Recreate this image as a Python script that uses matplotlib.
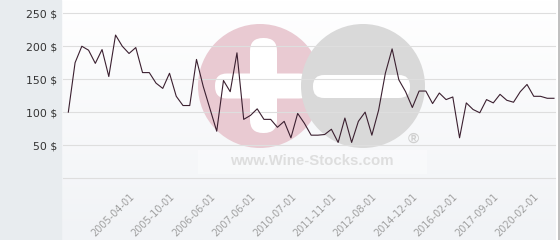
import numpy as np
import matplotlib.pyplot as plt
from matplotlib.patches import Circle, FancyBboxPatch, Rectangle
from matplotlib.lines import Line2D

# prix (un point par cotation)
prices = [100, 175, 200, 194, 174, 195, 154, 217, 200, 189,
          198, 160, 160, 144, 136, 159, 124, 110, 110, 180,
          139, 105, 71, 148, 131, 190, 89, 95, 105, 89,
          89, 77, 86, 61, 98, 83, 65, 65, 66, 74,
          54, 91, 54, 86, 100, 65, 103, 159, 196, 149,
          131, 107, 132, 132, 113, 129, 119, 123, 61, 114,
          104, 99, 119, 114, 127, 118, 115, 131, 142, 124,
          124, 121, 121]
date_labels = ['2005-04-01', '2005-10-01', '2006-06-01', '2007-06-01',
               '2010-07-01', '2011-11-01', '2012-08-01', '2014-12-01',
               '2016-02-01', '2017-09-01', '2020-02-01']
y_ticks = [0, 50, 100, 150, 200, 250]

W, H = 560, 240
fig = plt.figure(figsize=(W / 100, H / 100), dpi=100)
fig.patch.set_facecolor('white')

# panneau gris à gauche
fig.patches.append(Rectangle((0, 0), 61 / W, 1, transform=fig.transFigure,
                             color='#e8ecef', zorder=0))

# fond légèrement dégradé de la zone du graphique
ax_bg = fig.add_axes([61 / W, 0, (556 - 61) / W, 1], zorder=0)
grad = np.linspace(0, 1, 100).reshape(-1, 1) * np.ones((1, 10))
ax_bg.imshow(grad, aspect='auto', cmap=plt.matplotlib.colors.LinearSegmentedColormap.from_list(
    'bg', ['#ffffff', '#f1f3f6']), extent=(0, 1, 0, 1), origin='upper')
ax_bg.axis('off')

# filigrane (coordonnées en pixels)
ax_wm = fig.add_axes([0, 0, 1, 1], zorder=1)
ax_wm.set_xlim(0, W)
ax_wm.set_ylim(H, 0)
ax_wm.axis('off')
ax_wm.patch.set_alpha(0)
ax_wm.add_patch(Circle((260, 86), 62, color='#e9cad2', lw=0))
ax_wm.add_patch(FancyBboxPatch((250, 38), 27, 95, boxstyle='round,pad=0,rounding_size=13',
                               color='white', lw=0))
ax_wm.add_patch(FancyBboxPatch((215, 73.5), 96, 25, boxstyle='round,pad=0,rounding_size=12',
                               color='white', lw=0))
ax_wm.add_patch(Circle((363, 86), 62, color='#d9d9d9', lw=0))
ax_wm.add_patch(FancyBboxPatch((313, 75), 97, 23, boxstyle='round,pad=0,rounding_size=11',
                               color='white', lw=0))
ax_wm.add_patch(Rectangle((198, 150), 229, 24, color='white', alpha=0.35, lw=0))
ax_wm.text(312, 161, 'www.Wine-Stocks.com', family='Liberation Sans', weight='bold',
           fontsize=10.8, color='#dedede', ha='center', va='center')
ax_wm.text(413, 139, '®', family='Liberation Sans', weight='bold',
           fontsize=11, color='#d0d0d0', ha='center', va='center')

# bordure droite
fig.lines.append(Line2D([558.5 / W, 558.5 / W], [0, 1], transform=fig.transFigure,
                        color='#b4b4b4', lw=1.2))

ax = fig.add_axes([63 / W, (H - 178) / H, 492 / W, (178 - 13.3) / H], zorder=2)
ax.patch.set_alpha(0)
x = np.arange(len(prices))
ax.plot(x, prices, color='#3b2030', lw=0.8, zorder=3)
ax.set_xlim(-0.79, 72.15)
ax.set_ylim(0, 250)

ax.set_yticks(y_ticks)
ax.set_yticklabels(['' if v == 0 else f'{v} $' for v in y_ticks])
ax.tick_params(axis='y', length=0, pad=4, labelsize=7.8, labelcolor='#333333')
ax.grid(axis='y', color='#dedede', lw=0.8)
for gl in ax.get_ygridlines():
    gl.set_clip_on(False)

ax.set_xticks(np.arange(9, 9 + 6 * len(date_labels), 6))
ax.set_xticklabels(date_labels, rotation=45, ha='right', va='top', rotation_mode='anchor')
ax.tick_params(axis='x', length=0, pad=10, labelsize=7, labelcolor='#a0a0a0')

for s in ['top', 'right', 'left', 'bottom']:
    ax.spines[s].set_visible(False)

fig.savefig('out.png', dpi=100)
